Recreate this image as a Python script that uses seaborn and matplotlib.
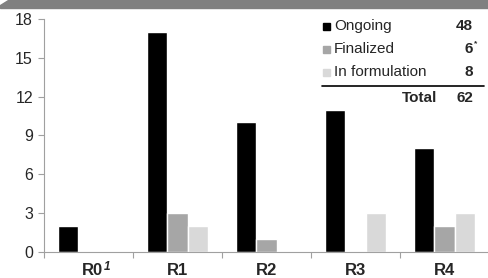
import matplotlib
matplotlib.use("Agg")
import matplotlib.pyplot as plt
from matplotlib.patches import Polygon
import numpy as np
import pandas as pd
import seaborn as sns

ROUNDS = ["R0", "R1", "R2", "R3", "R4"]
STATUSES = ["Ongoing", "Finalized", "In formulation"]
ONGOING = [2, 17, 10, 11, 8]
FINALIZED = [0, 3, 1, 0, 2]
IN_FORMULATION = [0, 2, 0, 3, 3]
TOTALS = ["48", "6", "8"]
GRAND_TOTAL = "62"
COLORS = ["#000000", "#a6a6a6", "#d9d9d9"]

sns.set_style("white")
plt.rcParams["font.family"] = ["Liberation Sans", "DejaVu Sans"]

df = pd.DataFrame({
    "round": ROUNDS * 3,
    "status": [s for s in STATUSES for _ in ROUNDS],
    "count": ONGOING + FINALIZED + IN_FORMULATION,
})

fig = plt.figure(figsize=(4.89, 2.78), dpi=100)
ax = fig.add_axes([0.09, 0.094, 0.91, 0.838])

sns.barplot(data=df, x="round", y="count", hue="status", hue_order=STATUSES,
            palette=COLORS, width=0.68, gap=0, saturation=1, legend=False, ax=ax)

ax.set_ylim(0, 18)
ax.set_yticks(np.arange(0, 19, 3))
ax.set_xlim(-0.5, 4.5)
ax.set_xticks(range(len(ROUNDS)))
# R0 carries a footnote superscript, drawn separately below
ax.set_xticklabels([""] + ROUNDS[1:], fontweight="bold", fontsize=12)
ax.set_xticks(np.arange(-0.5, 5.0, 1.0), minor=True)
ax.tick_params(axis="x", which="major", length=0, pad=8)
ax.tick_params(axis="x", which="minor", length=4, color="#a0a0a0", width=0.8, bottom=True)
ax.tick_params(axis="y", length=4, color="#a0a0a0", width=0.8, labelsize=11.5, left=True, pad=4)
ax.set_xlabel("")
ax.set_ylabel("")
for s in ["top", "right"]:
    ax.spines[s].set_visible(False)
for s in ["left", "bottom"]:
    ax.spines[s].set_color("#a0a0a0")
    ax.spines[s].set_linewidth(0.8)

ax.annotate("R0", xy=(0, 0), xycoords=("data", "axes fraction"), xytext=(-7, -11),
            textcoords="offset pixels", ha="left", va="top", fontsize=12, fontweight="bold",
            annotation_clip=False)
ax.annotate("1", xy=(0, 0), xycoords=("data", "axes fraction"), xytext=(15, -9.5),
            textcoords="offset pixels", ha="left", va="top", fontsize=8.5, fontweight="bold",
            fontstyle="italic", annotation_clip=False)

# legend-like table in the top right
fx = lambda px: px / 489
fy = lambda py: 1 - py / 278
ys = [26, 49, 72]
for st, col, tot, y in zip(STATUSES, COLORS, TOTALS, ys):
    fig.patches.append(plt.Rectangle((fx(323), fy(y + 4)), fx(7), 7 / 278,
                                     transform=fig.transFigure, color=col))
    fig.text(fx(334), fy(y), st, fontsize=11, va="center", ha="left")
    fig.text(fx(473), fy(y), tot, fontsize=11, va="center", ha="right", fontweight="bold")
fig.text(fx(474), fy(44), "*", fontsize=6, va="center", ha="left", fontweight="bold")
fig.add_artist(plt.Line2D([fx(322), fx(484)], [fy(86), fy(86)], color="black", lw=1.2))
fig.text(fx(437), fy(98), "Total", fontsize=11, va="center", ha="right", fontweight="bold")
fig.text(fx(473), fy(98), GRAND_TOTAL, fontsize=11, va="center", ha="right", fontweight="bold")

# gray band on top
band = Polygon([[fx(8), 1], [1, 1], [1, fy(8)], [0, fy(8)], [0, fy(5)]],
               closed=True, transform=fig.transFigure, color="#808080")
fig.patches.append(band)

fig.savefig("out.png", dpi=100)
